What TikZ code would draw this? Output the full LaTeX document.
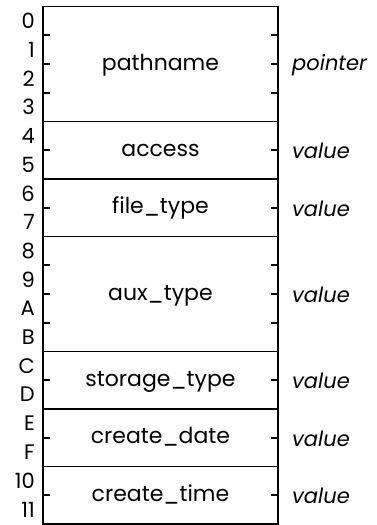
\documentclass[tikz,border=0pt]{standalone}
\usepackage{fontspec}
\setmainfont{Poppins}
\usetikzlibrary{positioning}

\begin{document}
\begin{tikzpicture}[x=1pt,y=-1pt,
  field/.style={draw, line width=1.6pt, minimum width=235pt, inner sep=0pt,
    text height=14pt, text depth=2pt, font=\fontsize{22}{24}\selectfont},
  offs/.style={anchor=east, inner sep=0pt, font=\fontsize{21}{24}\selectfont},
  kind/.style={anchor=west, inner sep=0pt, yshift=-1pt, font=\itshape\fontsize{21}{24}\selectfont},
  tick/.style={line width=1.8pt}
]
\useasboundingbox (0,0) rectangle (377,525);
% byte offsets, one per row
\foreach \o [count=\i from 0] in {0,1,2,3,4,5,6,7,8,9,A,B,C,D,E,F,10,11}{
  \node[offs] (off\i) at (35,{6.5+(\i+0.5)*28.75}) {\o};
}
% fields: name / first byte / length / kind
\foreach \f/\s/\n/\k in {pathname/0/4/pointer, access/4/2/value,
    file\_type/6/2/value, aux\_type/8/4/value, storage\_type/12/2/value,
    create\_date/14/2/value, create\_time/16/2/value}{
  \node[field, minimum height=\n*28.75pt] (f\s) at (160.5,{6.5+(\s+\n/2)*28.75}) {\f};
  \node[kind] (k\s) at (292,{6.5+(\s+\n/2)*28.75}) {\k};
  \pgfmathtruncatemacro\last{\n-1}
  \foreach \j in {1,...,\last}{
    \draw[tick] (43,{6.5+(\s+\j)*28.75}) -- ++(7,0);
    \draw[tick] (278,{6.5+(\s+\j)*28.75}) -- ++(-7,0);
  }
}
\end{tikzpicture}
\end{document}
